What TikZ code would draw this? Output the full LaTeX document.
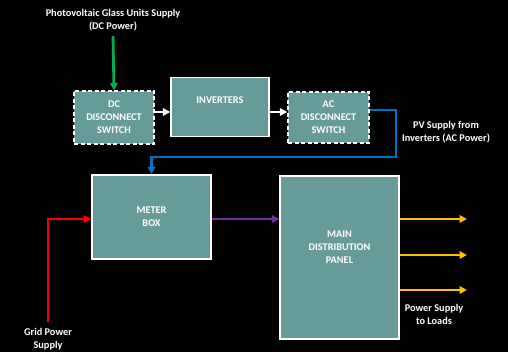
\documentclass[tikz,border=0pt]{standalone}
\usepackage{fontspec}
\setmainfont{Carlito}
\usetikzlibrary{arrows.meta}
\definecolor{teal1}{RGB}{102,155,153}
\definecolor{pvgreen}{RGB}{0,176,80}
\definecolor{acblue}{RGB}{0,112,192}
\definecolor{gridred}{RGB}{255,0,0}
\definecolor{mbpurple}{RGB}{112,48,160}
\definecolor{loadyellow}{RGB}{255,192,0}
\tikzset{
  box/.style={draw=white, line width=1.3pt, fill=teal1, text=white, align=center, inner sep=0pt,
    font=\fontsize{10.3}{13}\selectfont\bfseries},
  dashbox/.style={box, dashed, dash pattern=on 4pt off 2.5pt},
  lbl/.style={text=white, align=center, font=\fontsize{10.3}{13}\selectfont\bfseries, inner sep=0pt},
  conn/.style={line width=2.8pt, -{Triangle[length=7.5pt,width=7.5pt]}},
}
\begin{document}
\begin{tikzpicture}[x=1pt,y=-1pt]
\fill[black] (0,0) rectangle (508,352);
\useasboundingbox (0,0) rectangle (508,352);

\node[lbl] (pvlabel) at (113,20) {Photovoltaic Glass Units Supply\\(DC Power)};
\node[dashbox, minimum width=80pt, minimum height=53pt] (dc) at (114,117.5) {DC\\DISCONNECT\\SWITCH};
\node[box, minimum width=98pt, minimum height=59pt,
  label={[lbl, yshift=7pt]center:INVERTERS}] (inv) at (220,107) {};
\node[dashbox, minimum width=81pt, minimum height=51pt] (ac) at (328.5,117.5) {AC\\DISCONNECT\\SWITCH};
\node[lbl] (aclabel) at (446,132.5) {PV Supply from\\Inverters (AC Power)};
\node[box, minimum width=119pt, minimum height=84pt] (meter) at (151.5,217) {METER\\BOX};
\node[box, minimum width=119pt, minimum height=163pt,
  label={[lbl, yshift=10pt]center:MAIN\\DISTRIBUTION\\PANEL}] (main) at (339.5,257.5) {};
\node[lbl] (gridlabel) at (48,339.5) {Grid Power\\Supply};
\node[lbl] (loadlabel) at (434,314.5) {Power Supply\\to Loads};

\coordinate (b1) at (396,110);
\coordinate (b2) at (396,157);
\coordinate (grid) at (48,322);
\coordinate (l1) at (467,219);
\coordinate (l2) at (467,255);
\coordinate (l3) at (467,290);

\draw[conn, pvgreen] (pvlabel.south |- 0,36) -- (dc.north);
\draw[conn, white] (dc.east |- 0,112) -- (inv.west |- 0,112);
\draw[conn, white] (inv.east |- 0,112) -- (ac.west |- 0,112);
\draw[conn, acblue] (ac.east |- b1) -- (b1) -- (b2) -- (meter.north |- b2) -- (meter.north);
\draw[conn, gridred] (grid) |- (meter.west |- 0,219);
\draw[conn, mbpurple] (meter.east |- 0,219) -- (main.west |- 0,219);
\draw[conn, loadyellow] (main.east |- l1) -- (l1);
\draw[conn, loadyellow] (main.east |- l2) -- (l2);
\draw[conn, loadyellow] (main.east |- l3) -- (l3);
\end{tikzpicture}
\end{document}
